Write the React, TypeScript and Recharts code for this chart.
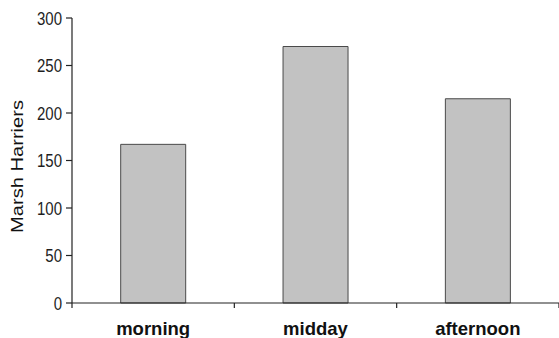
import React from 'react';
import { BarChart, Bar, XAxis, YAxis } from 'recharts';

const periods = ['morning', 'midday', 'afternoon'];
const harrierCounts = [167, 270, 215];
const yTicks = [0, 50, 100, 150, 200, 250, 300];

const data = periods.map((period, i) => ({ period, count: harrierCounts[i] }));

// category label centred in the band, tick mark on the band's left edge
const CategoryTick = (props: any) => {
  const { x, y, payload, index } = props;
  const half = payload.offset || 0;
  return (
    <g>
      <line x1={x - half} y1={y} x2={x - half} y2={y + 5} stroke="#222" strokeWidth={1.2} />
      {index === periods.length - 1 && (
        <line x1={x + half} y1={y} x2={x + half} y2={y + 5} stroke="#222" strokeWidth={1.2} />
      )}
      <text
        x={x}
        y={y + 32}
        textAnchor="middle"
        fontFamily="'Liberation Sans', Arial, sans-serif"
        fontWeight="bold"
        fontSize={18.5}
        fill="#111"
      >
        {payload.value}
      </text>
    </g>
  );
};

const ValueTick = (props: any) => {
  const { x, y, payload } = props;
  return (
    <text
      transform={`translate(${x},${y}) scale(1,1.25)`}
      textAnchor="end"
      dy="0.36em"
      fontFamily="'Liberation Sans', Arial, sans-serif"
      fontSize={15}
      fill="#1e1e1e"
    >
      {payload.value}
    </text>
  );
};

const AxisTitle = (props: any) => {
  const vb = props.viewBox || { x: 0, y: 0, width: 0, height: 0 };
  const cx = vb.x + 17.5;
  const cy = vb.y + vb.height / 2 + 6;
  return (
    <text
      transform={`translate(${cx},${cy}) rotate(-90) scale(1.22,1)`}
      textAnchor="middle"
      dy="0.36em"
      fontFamily="'Liberation Sans', Arial, sans-serif"
      fontSize={16.5}
      fill="#111"
    >
      Marsh Harriers
    </text>
  );
};

export default function App() {
  return (
    <div style={{ position: 'absolute', left: 0, top: 0, width: 559, height: 338, background: '#fff' }}>
      <BarChart
        width={559}
        height={338}
        data={data}
        margin={{ top: 18, right: 0, bottom: 0, left: 0 }}
        barCategoryGap="30%"
      >
        <XAxis
          dataKey="period"
          height={35}
          tickSize={0}
          tickMargin={0}
          tickLine={false}
          axisLine={{ stroke: '#222', strokeWidth: 1.2 }}
          tick={<CategoryTick />}
          interval={0}
        />
        <YAxis
          width={72}
          domain={[0, 300]}
          ticks={yTicks}
          interval={0}
          tickSize={6}
          tickMargin={4}
          tickLine={{ stroke: '#222', strokeWidth: 1.2 }}
          axisLine={{ stroke: '#222', strokeWidth: 1.2 }}
          tick={<ValueTick />}
          label={{ content: <AxisTitle /> }}
        />
        <Bar dataKey="count" fill="#c2c2c2" stroke="#4a4a4a" strokeWidth={1} isAnimationActive={false} />
      </BarChart>
    </div>
  );
}
